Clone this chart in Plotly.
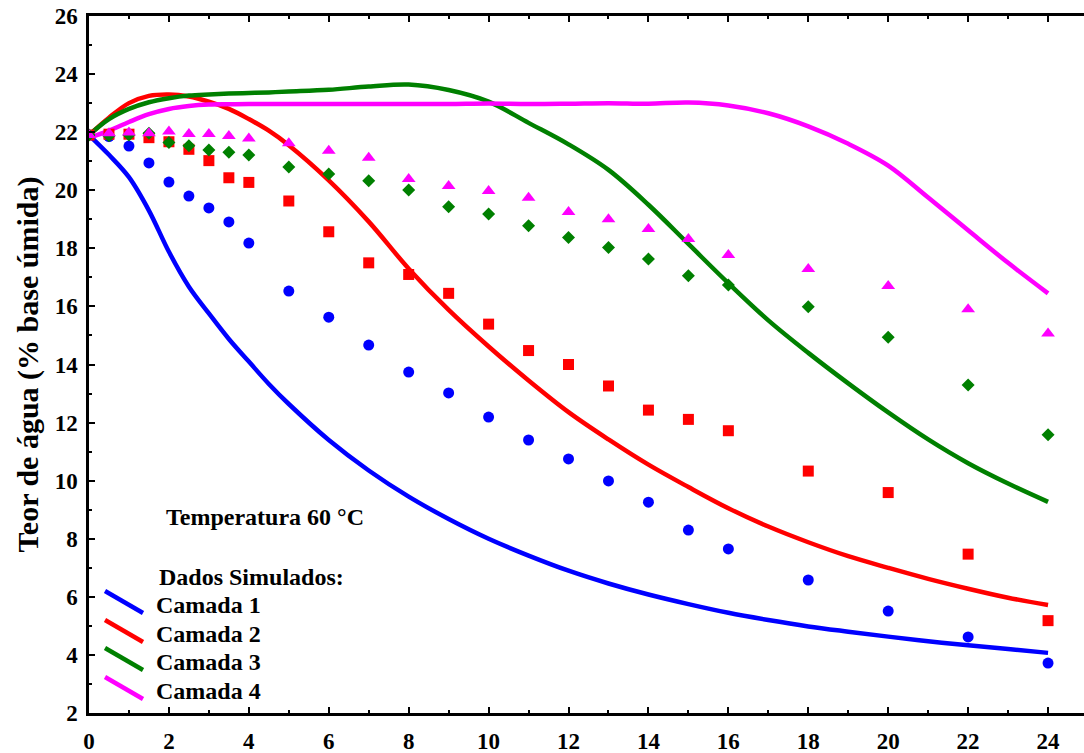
import plotly.graph_objects as go

# ---------------- data ----------------
t_exp = [0, 0.5, 1, 1.5, 2, 2.5, 3, 3.5, 4, 5, 6, 7, 8, 9, 10, 11, 12, 13, 14, 15, 16, 18, 20, 22, 24]
camada1_exp = [21.9, 21.85, 21.52, 20.94, 20.28, 19.8, 19.39, 18.91, 18.18, 16.53, 15.63, 14.67, 13.74,
               13.02, 12.19, 11.4, 10.75, 9.99, 9.26, 8.3, 7.65, 6.58, 5.51, 4.62, 3.72]
camada2_exp = [21.9, 21.93, 21.93, 21.81, 21.67, 21.41, 21.02, 20.43, 20.27, 19.63, 18.57, 17.5, 17.1,
               16.45, 15.39, 14.48, 14.0, 13.26, 12.43, 12.11, 11.72, 10.33, 9.59, 7.47, 5.18]
camada3_exp = [21.9, 21.88, 21.9, 21.96, 21.64, 21.53, 21.39, 21.31, 21.21, 20.8, 20.56, 20.33, 20.01,
               19.43, 19.18, 18.78, 18.37, 18.03, 17.63, 17.06, 16.74, 15.99, 14.94, 13.29, 11.58]
camada4_exp = [21.9, 21.96, 21.99, 21.96, 22.02, 21.94, 21.94, 21.87, 21.78, 21.62, 21.36, 21.12, 20.39,
               20.15, 19.97, 19.74, 19.25, 19.0, 18.67, 18.32, 17.77, 17.29, 16.7, 15.9, 15.07]

t_sim = [0, 0.5, 1, 1.5, 2, 2.5, 3, 3.5, 4, 4.5, 5, 6, 7, 8, 9, 10, 11, 12, 13, 14, 15, 16, 17, 18,
         19, 20, 21, 22, 23, 24]
camada1_sim = [21.9, 21.22, 20.45, 19.3, 17.88, 16.68, 15.76, 14.88, 14.1, 13.33, 12.64, 11.4, 10.35,
               9.45, 8.68, 8.0, 7.42, 6.9, 6.46, 6.08, 5.75, 5.45, 5.2, 4.98, 4.8, 4.63, 4.47, 4.33, 4.2, 4.07]
camada2_sim = [21.9, 22.5, 23.0, 23.25, 23.3, 23.23, 23.05, 22.8, 22.45, 22.05, 21.55, 20.34, 18.92,
               17.3, 15.88, 14.62, 13.45, 12.36, 11.42, 10.55, 9.78, 9.05, 8.42, 7.88, 7.4, 7.0, 6.62,
               6.28, 5.97, 5.72]
camada3_sim = [21.9, 22.45, 22.8, 23.03, 23.17, 23.26, 23.3, 23.33, 23.35, 23.37, 23.4, 23.46, 23.57,
               23.64, 23.45, 23.05, 22.32, 21.58, 20.7, 19.5, 18.15, 16.8, 15.52, 14.4, 13.35, 12.35,
               11.42, 10.6, 9.9, 9.27]
camada4_sim = [21.8, 22.05, 22.35, 22.62, 22.8, 22.9, 22.95, 22.96, 22.97, 22.97, 22.97, 22.97, 22.97,
               22.97, 22.97, 22.99, 22.97, 22.98, 23.0, 22.98, 23.02, 22.92, 22.65, 22.2, 21.6, 20.85,
               19.75, 18.62, 17.5, 16.45]

layer_names = ["Camada 1", "Camada 2", "Camada 3", "Camada 4"]
x_ticks = [0, 2, 4, 6, 8, 10, 12, 14, 16, 18, 20, 22, 24]
y_ticks = [2, 4, 6, 8, 10, 12, 14, 16, 18, 20, 22, 24, 26]
y_title = "Teor de água (% base úmida)"

# ---------------- styles ----------------
colors = ["#0000FF", "#FF0000", "#008000", "#FF00FF"]
symbols = ["circle", "square", "diamond", "triangle-up"]
msizes = [11, 11, 10, 12]
FONT = "Liberation Serif, Times New Roman, serif"

fig = go.Figure()
sims = [camada1_sim, camada2_sim, camada3_sim, camada4_sim]
exps = [camada1_exp, camada2_exp, camada3_exp, camada4_exp]

for i in range(4):
    fig.add_trace(go.Scatter(x=t_sim, y=sims[i], mode="lines",
                             line=dict(color=colors[i], width=4.5, shape="spline", smoothing=1.0),
                             name=layer_names[i], showlegend=False))
for i in range(4):
    fig.add_trace(go.Scatter(x=t_exp, y=exps[i], mode="markers",
                             marker=dict(color=colors[i], symbol=symbols[i], size=msizes[i],
                                         line=dict(width=0)),
                             name=layer_names[i] + " exp", showlegend=False))

# custom legend (diagonal line glyphs); positions in screen pixels -> paper fractions
W, H = 995.0, 697.0
L, B = 89.0, 713.0
def px(xp):
    return (xp - L) / W
def py(yp):
    return (B - yp) / H

legend_rows = [605, 634, 662, 691]
for i, yc in enumerate(legend_rows):
    fig.add_shape(type="line", xref="paper", yref="paper",
                  x0=px(105), y0=py(yc - 14), x1=px(143), y1=py(yc + 8),
                  line=dict(color=colors[i], width=4.5))
    fig.add_annotation(xref="paper", yref="paper", x=px(154), y=py(yc),
                       xanchor="left", yanchor="middle", showarrow=False,
                       text="<b>%s</b>" % layer_names[i],
                       font=dict(family=FONT, size=24, color="black"))

fig.add_annotation(xref="paper", yref="paper", x=px(157), y=py(577),
                   xanchor="left", yanchor="middle", showarrow=False,
                   text="<b>Dados Simulados:</b>",
                   font=dict(family=FONT, size=24, color="black"))
fig.add_annotation(xref="paper", yref="paper", x=px(164), y=py(517),
                   xanchor="left", yanchor="middle", showarrow=False,
                   text="<b>Temperatura 60 °C</b>",
                   font=dict(family=FONT, size=24, color="black"))

axis_common = dict(showgrid=False, zeroline=False, showline=True, linecolor="black", linewidth=2.5,
                   ticks="inside", ticklen=6, tickwidth=2, tickcolor="black", automargin=False,
                   ticklabeloverflow="allow",
                   tickfont=dict(family=FONT, size=23, color="black"))

fig.update_xaxes(range=[0, 24.9], tickvals=x_ticks, ticktext=["<b>%d</b>" % v for v in x_ticks],
                 mirror="ticks", ticklabelstandoff=6,
                 minor=dict(dtick=1, ticks="inside", ticklen=3, tickwidth=1.5, tickcolor="black"),
                 **axis_common)
fig.update_yaxes(range=[2, 26], tickvals=y_ticks, ticktext=["<b>%d</b>" % v for v in y_ticks],
                 mirror=False, ticklabelstandoff=4,
                 minor=dict(dtick=1, ticks="inside", ticklen=3, tickwidth=1.5, tickcolor="black"),
                 title=dict(text="<b>%s</b>" % y_title, standoff=8,
                            font=dict(family=FONT, size=30, color="black")),
                 **axis_common)

fig.update_layout(width=1084, height=753, plot_bgcolor="white", paper_bgcolor="white",
                  margin=dict(l=89, r=0, t=16, b=40), showlegend=False)

# remove the browser's default 8px body margin so the figure sits at the page origin
fig.write_html("out.html", config={"displayModeBar": False},
               post_script="document.body.style.margin='0';document.body.style.overflow='hidden';")
